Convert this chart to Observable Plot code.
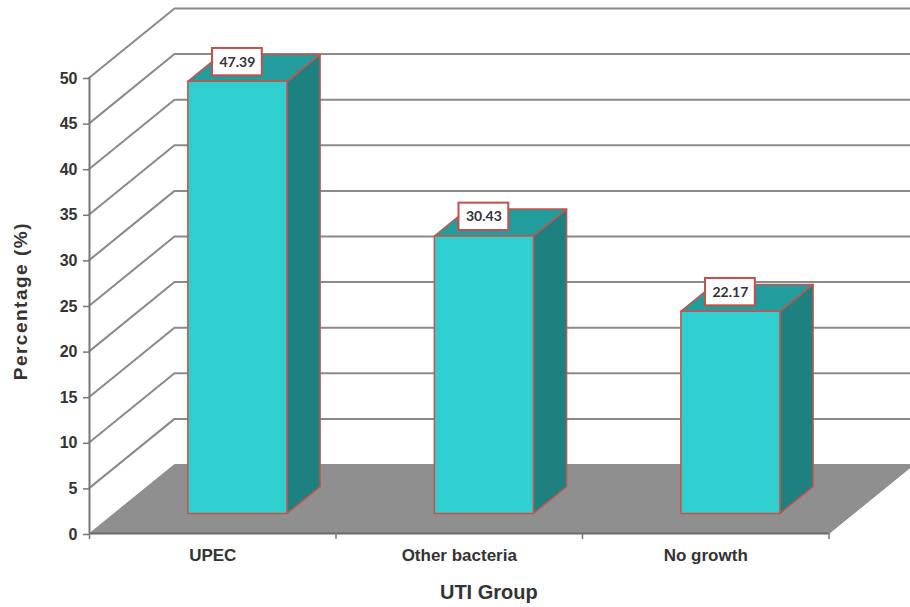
<!DOCTYPE html>
<html>
<head>
<meta charset="utf-8">
<script src="https://cdn.jsdelivr.net/npm/d3@7"></script>
<script src="https://cdn.jsdelivr.net/npm/@observablehq/plot@0.6"></script>
<style>
  html, body { margin: 0; padding: 0; background: #fff; overflow: hidden; }
  svg { display: block; }
  text[aria-label="percentage title"] { letter-spacing: 1.5px; }
</style>
</head>
<body>
<div id="chart"></div>
<script>
// UTI group shares, in percent
const categories = ["UPEC", "Other bacteria", "No growth"];
const percentages = [47.39, 30.43, 22.17];
const yTicks = [0, 5, 10, 15, 20, 25, 30, 35, 40, 45, 50];
const xTicks = [0, 1, 2, 3];

// Oblique projection: one full unit of depth shifts by this much in data units
const depthX = 0.3448;
const depthY = 7.566;
const barFrontDepth = 0.29;
const barBackDepth = 0.68;
const barWidth = 0.402;

const project = (x, y, depth) => ({x: x + depth * depthX, y: y + depth * depthY});
const closed = (pts) => [...pts, pts[0]];

// Gridlines run up the side wall, then along the back wall
const xEnd = 821 / 246.5;
const gridLines = yTicks.slice(1).flatMap((v) => [
  {v, ...project(0, v, 0)},
  {v, ...project(0, v, 1)},
  {v, x: xEnd, y: v + depthY}
]);

const floor = closed([project(0, 0, 0), project(3, 0, 0), project(3, 0, 1), project(0, 0, 1)]);

// The three visible faces of each bar
const bars = percentages.map((value, i) => {
  const x0 = i + 0.5 - barWidth / 2;
  const x1 = i + 0.5 + barWidth / 2;
  const f = barFrontDepth, b = barBackDepth;
  return {
    value,
    front: closed([project(x0, 0, f), project(x1, 0, f), project(x1, value, f), project(x0, value, f)]),
    side: closed([project(x1, 0, f), project(x1, 0, b), project(x1, value, b), project(x1, value, f)]),
    top: closed([project(x0, value, f), project(x1, value, f), project(x1, value, b), project(x0, value, b)]),
    label: project(i + 0.5, value + 2.1, f)
  };
});

const edge = "#c4544f";
const face = (pts, fill) => Plot.line(pts, {x: "x", y: "y", fill, stroke: edge, strokeWidth: 1.5, strokeLinejoin: "round"});

const font = "'Liberation Sans', Arial, sans-serif";

const plot = Plot.plot({
  width: 910,
  height: 607,
  marginLeft: 89,
  marginRight: 0,
  marginTop: 0,
  marginBottom: 74,
  style: {fontFamily: font, background: "#fff"},
  x: {domain: [0, xEnd], label: null},
  y: {domain: [0, 533 / 9.12], label: null},
  marks: [
    Plot.line(gridLines, {x: "x", y: "y", z: "v", stroke: "#8a8a8a", strokeWidth: 2}),
    Plot.line(floor, {x: "x", y: "y", fill: "#8f8f8f", stroke: "#8f8f8f", strokeWidth: 1}),
    Plot.ruleX([0], {y1: 0, y2: 50, stroke: "#777", strokeWidth: 2}),
    Plot.ruleY([0], {x1: 0, x2: 3, stroke: "#6a6a6a", strokeWidth: 2}),
    Plot.axisY({
      ticks: yTicks, tickSize: 6, tickPadding: 6, stroke: "#777", strokeWidth: 1.5,
      fontSize: 16, fontWeight: "bold", fill: "#333", label: null, textStroke: "none", dy: 1
    }),
    Plot.ruleX(xTicks, {x: (d) => d, y1: 0, y2: -0.66, stroke: "#777", strokeWidth: 1.5}),
    Plot.axisX({
      ticks: [0.5, 1.5, 2.5], tickSize: 0, tickPadding: 15,
      tickFormat: (d) => categories[d - 0.5],
      fontSize: 17, fontWeight: "bold", fill: "#333", label: null
    }),
    bars.flatMap((b) => [
      face(b.side, "#1f8080"),
      face(b.top, "#229c9c"),
      face(b.front, "#30cfcf")
    ]),
    Plot.rect(bars, {
      x1: (b) => b.label.x - 0.101,
      x2: (b) => b.label.x + 0.101,
      y1: (b) => b.label.y - 1.5,
      y2: (b) => b.label.y + 1.5,
      fill: "#fff",
      stroke: "#c4504c",
      strokeWidth: 2
    }),
    Plot.text(bars, {
      x: (b) => b.label.x,
      y: (b) => b.label.y,
      text: (b) => b.value.toFixed(2),
      fontFamily: "Lato, sans-serif",
      fontSize: 14,
      fontWeight: "bold",
      fill: "#333"
    }),
    Plot.text(["UTI Group"], {
      x: [1.62], frameAnchor: "bottom", dy: 65, fontSize: 20, fontWeight: "bold", fill: "#333"
    }),
    Plot.text(["Percentage (%)"], {
      y: [16.8], frameAnchor: "left", dx: -69, rotate: -90, fontSize: 19, fontWeight: "bold", fill: "#333",
      ariaLabel: () => "percentage title"
    })
  ]
});

document.getElementById("chart").append(plot);
</script>
</body>
</html>
